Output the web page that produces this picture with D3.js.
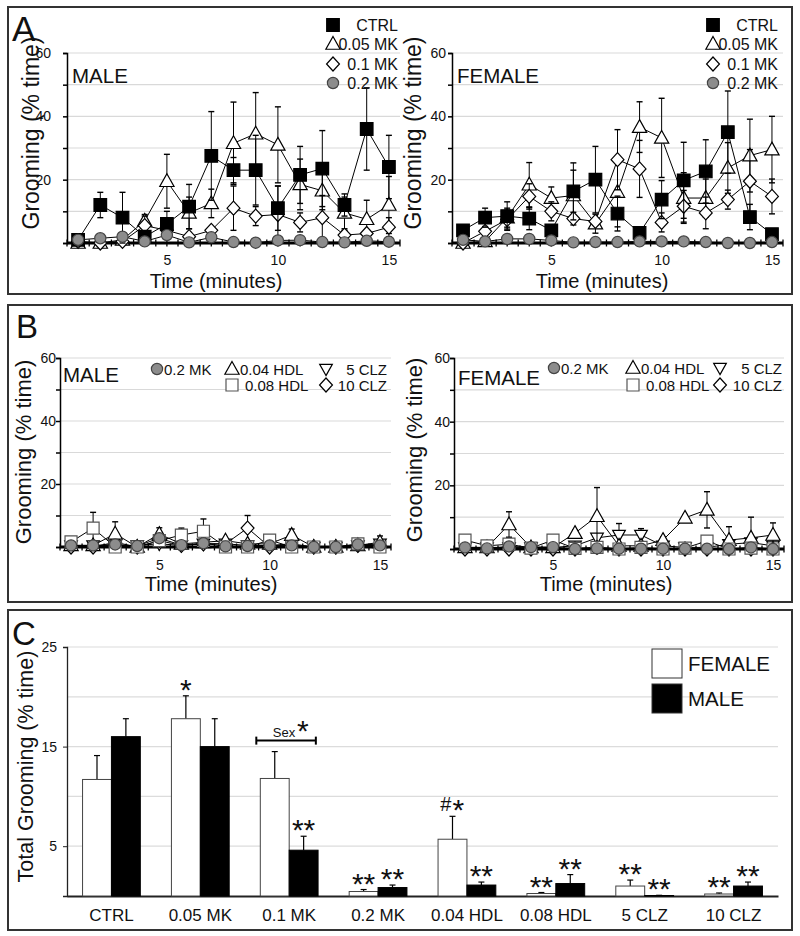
<!DOCTYPE html>
<html><head><meta charset="utf-8">
<script src="https://cdn.jsdelivr.net/npm/d3@7"></script>
<style>body{margin:0;background:#fff} svg{font-family:"Liberation Sans",Arial,sans-serif}</style>
</head><body><svg id="c" width="800" height="936"></svg>
<script>
// ---------- DATA ----------
const minutes = [1,2,3,4,5,6,7,8,9,10,11,12,13,14,15];
const xTickLabels = [5,10,15];
const yTickValues = [0,10,20,30,40,50,60];
const yTickLabels = [20,40,60];

// Panel A male
const ctrlM      = [1, 12, 8, 2, 6, 11.5, 27.5, 23, 23, 11, 21.5, 23.5, 12, 36, 24];
const ctrlMErr   = [0.5, 4, 8, 1.5, 4, 7, 14, 4, 11, 7, 9, 12, 3.5, 13, 10];
const mk005M     = [0, 0, 1, 7, 19.5, 9.5, 12.5, 31.5, 34.5, 31, 18.5, 16.5, 9.5, 7.5, 12];
const mk005MErr  = [0.5, 0.5, 1, 2, 8.5, 5, 4.5, 13, 13, 12, 8, 6, 5, 6, 9];
const mk01M      = [0.5, 0, 0.5, 5.5, 4, 2, 4, 11, 8.5, 9, 6.5, 8, 2.5, 3, 5];
const mk01MErr   = [0.5, 0.5, 0.5, 3, 1.5, 1, 1, 7, 3, 9, 3, 7, 1.5, 1, 3];
const mk02M      = [1, 1.5, 2, 0.5, 2.5, 0.2, 1.8, 0.3, 0.1, 0.8, 0.9, 0.3, 0.2, 0.7, 0.4];
const mk02MErr   = [0.5, 0.5, 0.5, 0.5, 0.5, 0.3, 0.5, 0.3, 0.2, 0.5, 0.5, 0.3, 0.2, 0.5, 0.3];
// Panel A female
const ctrlF      = [4, 8, 8.5, 7.7, 4, 16.3, 20, 9.3, 3.2, 13.7, 19.8, 22.6, 35, 8.2, 2.8];
const ctrlFErr   = [1, 3, 4.5, 3.5, 1.5, 9, 10.5, 5.5, 1, 6, 12, 10, 13, 4, 1];
const mk005F     = [0, 0.5, 8, 18.4, 14.2, 15, 6.1, 16.1, 36.6, 33.2, 14.2, 14.2, 23.7, 27.6, 29.5];
const mk005FErr  = [0.5, 0.5, 3, 7, 3.5, 8, 3, 11, 8, 12.5, 8, 6, 8, 11.5, 10.5];
const mk01F      = [0, 3.7, 7.4, 14.7, 10, 7.7, 6.8, 26.3, 23.4, 6.5, 11.6, 9.5, 13.7, 19.5, 14.7];
const mk01FErr   = [0.5, 1.5, 3, 4, 3, 2, 1, 9.5, 9, 3, 5, 5, 3, 10, 5.5];
const mk02F      = [1, 0.5, 1.3, 1.3, 0.8, 0.2, 0.3, 0.3, 0.5, 0.5, 0.5, 0.3, 0, 0, 0.3];
const mk02FErr   = [0.4, 0.3, 0.5, 0.5, 0.4, 0.2, 0.2, 0.2, 0.3, 0.3, 0.3, 0.2, 0.1, 0.1, 0.2];
// Panel B male
const mk02MB     = [0.5, 0.5, 0.8, 0.3, 2.8, 0.6, 1.2, 0.2, 0.3, 0.5, 0.5, 0, 0, 0.8, 0.5];
const hdl004M    = [0.5, 0.5, 4.2, 0, 4.1, 1, 1.5, 2, 1, 1, 3.8, 0, 0, 0.5, 1.5];
const hdl004MErr = [0.3, 0.3, 3.8, 0.3, 2, 0.5, 0.5, 0.5, 0.5, 0.5, 1.9, 0.3, 0.3, 0.3, 2];
const hdl008M    = [1.6, 6, 0, 0, 2, 3.8, 5, 0, 0, 2.2, 0, 0, 0, 1, 0];
const hdl008MErr = [0.5, 5, 0.3, 0.3, 1, 2.2, 3.9, 0.3, 0.3, 1, 0.3, 0.3, 0.3, 0.5, 0.3];
const clz5M      = [0.5, 0.5, 0.5, 0.5, 1, 0.5, 1, 1, 0.5, 0.5, 1, 0, 0, 0.5, 1];
const clz5MErr   = [0.3, 0.3, 0.3, 0.3, 0.5, 0.3, 0.5, 0.5, 0.3, 0.3, 0.5, 0.2, 0.2, 0.3, 0.5];
const clz10M     = [0, 0, 1.5, 0, 2, 0.5, 1, 1, 6, 0, 0.5, 0, 0, 0.5, 0.5];
const clz10MErr  = [0.3, 0.3, 0.5, 0.3, 0.5, 0.3, 0.5, 0.5, 4, 0.3, 0.3, 0.2, 0.2, 0.3, 0.3];
// Panel B female
const mk02FB     = [0.5, 0.2, 0.8, 0.6, 0.6, 0, 0.2, 0.1, 0.1, 0.1, 0.1, 0.1, 0, 0.5, 0];
const hdl004F    = [0.5, 0.5, 7.7, 0.5, 0.5, 5, 10.3, 1, 1, 2.8, 9.8, 12.3, 2.8, 3.5, 4.4];
const hdl004FErr = [0.3, 0.3, 4, 0.3, 0.3, 1, 9, 0.5, 0.5, 1, 1, 5.7, 4.2, 6.5, 3.8];
const hdl008F    = [2.8, 1, 1.5, 0.3, 2.8, 0.2, 0.5, 0, 0.5, 0, 0.3, 2.5, 0, 0.3, 0];
const hdl008FErr = [0.5, 0.3, 0.5, 0.2, 0.5, 0.2, 0.3, 0.2, 0.3, 0.2, 0.2, 0.5, 0.2, 0.2, 0.2];
const clz5F      = [0.5, 0.5, 0.5, 0.5, 0.5, 1, 3.5, 4.4, 4.4, 1, 0.5, 0.5, 1.5, 2, 1];
const clz5FErr   = [0.3, 0.3, 0.3, 0.3, 0.3, 0.5, 1, 3.6, 2, 0.5, 0.3, 0.3, 0.5, 0.5, 0.5];
const clz10F     = [0, 0, 0, 0, 0, 0, 0.5, 0, 0, 0, 0, 0, 0, 0, 0];
const clz10FErr  = [0.2, 0.2, 0.2, 0.2, 0.2, 0.2, 0.3, 0.2, 0.2, 0.2, 0.2, 0.2, 0.2, 0.2, 0.2];

// Panel C
const groups = ["CTRL","0.05 MK","0.1 MK","0.2 MK","0.04 HDL","0.08 HDL","5 CLZ","10 CLZ"];
const totalFemale    = [11.7, 17.8, 11.8, 0.45, 5.7, 0.25, 1.0, 0.2];
const totalFemaleErr = [2.4, 2.3, 2.7, 0.2, 2.3, 0.1, 0.6, 0.1];
const totalMale      = [16.0, 15.0, 4.6, 0.85, 1.1, 1.25, 0.05, 1.0];
const totalMaleErr   = [1.8, 2.8, 1.4, 0.25, 0.3, 0.9, 0.02, 0.4];
const sigFemale = ["", "*", "", "**", "#*", "**", "**", "**"];
const sigMale   = ["", "", "**", "**", "**", "**", "**", "**"];
const cTickValues = [0,5,10,15,20,25];
const cTickLabels = [5,15,25];

// ---------- DRAWING ----------
const svg = d3.select("#c");

function shapePath(type, s) {
  switch (type) {
    case "square": return `M${-s},${-s}H${s}V${s}H${-s}Z`;
    case "up": return `M0,${-s*1.2}L${s*1.15},${s*0.85}L${-s*1.15},${s*0.85}Z`;
    case "down": return `M0,${s*1.2}L${s*1.15},${-s*0.85}L${-s*1.15},${-s*0.85}Z`;
    case "diamond": return `M0,${-s*1.25}L${s*1.15},0L0,${s*1.25}L${-s*1.15},0Z`;
    case "circle": return `M${s},0A${s},${s} 0 1,1 ${-s},0A${s},${s} 0 1,1 ${s},0Z`;
  }
}
const STY = {
  sqBlack: {type:"square", s:6.3, fill:"#000", stroke:"#000"},
  sqWhite: {type:"square", s:6, fill:"#fff", stroke:"#555"},
  up:      {type:"up", s:6.2, fill:"#fff", stroke:"#000"},
  down:    {type:"down", s:5.5, fill:"#fff", stroke:"#000"},
  diamond: {type:"diamond", s:5.6, fill:"#fff", stroke:"#000"},
  circle:  {type:"circle", s:5.6, fill:"#8c8c8c", stroke:"#444"}
};

function panelBox(y0, y1) {
  svg.append("rect").attr("x",8).attr("y",y0).attr("width",784).attr("height",y1-y0)
    .attr("fill","none").attr("stroke","#333").attr("stroke-width",2);
}

function linePanel(cfg) {
  const g = svg.append("g");
  const x = d3.scaleLinear().domain([0.5,15.5]).range([cfg.x0, cfg.x1]);
  const y = d3.scaleLinear().domain([0,60]).range([cfg.yb, cfg.yt]);
  g.selectAll(".gr").data(yTickValues.filter(d=>d>0)).join("line")
    .attr("x1", cfg.x0).attr("x2", cfg.gx1).attr("y1", d=>y(d)).attr("y2", d=>y(d))
    .attr("stroke","#d9d9d9").attr("stroke-width",1.2);
  const ya = g.append("g").attr("transform",`translate(${cfg.x0},0)`)
    .call(d3.axisLeft(y).tickValues(yTickValues).tickSize(4).tickPadding(cfg.ytp)
      .tickFormat(d => yTickLabels.includes(d) ? d : ""));
  ya.select(".domain").attr("stroke","#000").attr("stroke-width",1.5);
  ya.selectAll(".tick line").attr("stroke","#000").attr("stroke-width",1.5);
  ya.selectAll("text").attr("font-size",14).attr("fill","#111").attr("font-family","Liberation Sans, Arial");
  const xa = g.append("g").attr("transform",`translate(0,${cfg.yb})`)
    .call(d3.axisBottom(x).tickValues(xTickLabels).tickSize(0).tickPadding(cfg.xtp));
  xa.select(".domain").remove();
  xa.selectAll("text").attr("font-size",14).attr("fill","#111").attr("font-family","Liberation Sans, Arial");
  const half = d3.range(0.5, 15.51, 0.5);
  g.selectAll(".mt").data(half).join("line")
    .attr("x1", d=>x(d)).attr("x2", d=>x(d)).attr("y1", cfg.yb-3.5).attr("y2", cfg.yb+3.5)
    .attr("stroke","#000").attr("stroke-width",1.3);
  g.append("line").attr("x1",cfg.x0).attr("x2",cfg.x1).attr("y1",cfg.yb).attr("y2",cfg.yb)
    .attr("stroke","#000").attr("stroke-width",3);
  g.append("text").attr("transform",`translate(${cfg.ylx},${cfg.yly}) rotate(-90)`)
    .attr("text-anchor","middle").attr("font-size",cfg.ylfs).attr("fill","#111").text("Grooming (% time)");
  g.append("text").attr("x",cfg.xlx).attr("y",cfg.xly).attr("text-anchor","middle")
    .attr("font-size",20).attr("fill","#111").text("Time (minutes)");
  g.append("text").attr("x",cfg.sx).attr("y",cfg.sy).attr("font-size",20.5).attr("fill","#111").text(cfg.sex);
  const line = d3.line().x((d,i)=>x(minutes[i])).y(d=>y(d));
  cfg.series.forEach(s => {
    const sg = g.append("g");
    sg.append("path").attr("d", line(s.v)).attr("fill","none").attr("stroke","#000").attr("stroke-width",1);
    const eb = sg.selectAll(".eb").data(s.v.map((v,i)=>({m:minutes[i], v, e:s.e[i]}))).join("g");
    eb.append("line").attr("x1",d=>x(d.m)).attr("x2",d=>x(d.m))
      .attr("y1",d=>y(Math.max(0,d.v-d.e))).attr("y2",d=>y(d.v+d.e))
      .attr("stroke","#000").attr("stroke-width",1);
    eb.append("line").attr("x1",d=>x(d.m)-3).attr("x2",d=>x(d.m)+3)
      .attr("y1",d=>y(d.v+d.e)).attr("y2",d=>y(d.v+d.e)).attr("stroke","#000").attr("stroke-width",1.4);
    eb.append("line").attr("x1",d=>x(d.m)-3).attr("x2",d=>x(d.m)+3)
      .attr("y1",d=>y(Math.max(0,d.v-d.e))).attr("y2",d=>y(Math.max(0,d.v-d.e))).attr("stroke","#000").attr("stroke-width",1.4);
    sg.selectAll(".mk").data(s.v).join("path")
      .attr("transform",(d,i)=>`translate(${x(minutes[i])},${y(d)})`)
      .attr("d", shapePath(s.st.type, s.st.s))
      .attr("fill", s.st.fill).attr("stroke", s.st.stroke).attr("stroke-width",1.2);
  });
  cfg.legend.forEach(l => {
    g.append("path").attr("transform",`translate(${l.mx},${l.my})`)
      .attr("d", shapePath(l.st.type, l.st.s)).attr("fill",l.st.fill).attr("stroke",l.st.stroke).attr("stroke-width",1.2);
    g.append("text").attr("x",l.tx).attr("y",l.my+5.5).attr("text-anchor",l.anchor)
      .attr("font-size",l.fs).attr("fill","#111").text(l.label);
  });
}

panelBox(7, 294);
panelBox(305, 602);
panelBox(610, 930);

svg.append("text").attr("x",12).attr("y",41).attr("font-size",35).attr("fill","#111").text("A");
svg.append("text").attr("x",16).attr("y",338).attr("font-size",33).attr("fill","#111").text("B");
svg.append("text").attr("x",12).attr("y",645).attr("font-size",33).attr("fill","#111").text("C");

function legendA(mx, tx) {
  return [
    {label:"CTRL", st:STY.sqBlack, mx, my:25, tx, anchor:"end", fs:16},
    {label:"0.05 MK", st:STY.up, mx, my:44, tx, anchor:"end", fs:16},
    {label:"0.1 MK", st:STY.diamond, mx, my:64, tx, anchor:"end", fs:16},
    {label:"0.2 MK", st:STY.circle, mx, my:83, tx, anchor:"end", fs:16}
  ];
}

linePanel({x0:67, x1:400, gx1:400, yb:243, yt:53, ylx:39, yly:133, ylfs:23, xlx:216, xly:288,
  ytp:12, xtp:12, sx:72, sy:83, sex:"MALE",
  series:[
    {v:mk005M, e:mk005MErr, st:STY.up},
    {v:mk01M, e:mk01MErr, st:STY.diamond},
    {v:ctrlM, e:ctrlMErr, st:STY.sqBlack},
    {v:mk02M, e:mk02MErr, st:STY.circle}
  ],
  legend: legendA(333, 398)});

linePanel({x0:452, x1:783, gx1:783, yb:243, yt:53, ylx:421, yly:133, ylfs:23, xlx:602, xly:288,
  ytp:2, xtp:12, sx:457, sy:83, sex:"FEMALE",
  series:[
    {v:mk005F, e:mk005FErr, st:STY.up},
    {v:mk01F, e:mk01FErr, st:STY.diamond},
    {v:ctrlF, e:ctrlFErr, st:STY.sqBlack},
    {v:mk02F, e:mk02FErr, st:STY.circle}
  ],
  legend: legendA(713, 778)});

function legendB(cx, tx1, hx, htx1, htx2, dx, dtx, r1, r2) {
  return [
    {label:"0.2 MK", st:STY.circle, mx:cx, my:r1, tx:tx1, anchor:"start", fs:15},
    {label:"0.04 HDL", st:STY.up, mx:hx, my:r1, tx:htx1, anchor:"start", fs:15},
    {label:"0.08 HDL", st:STY.sqWhite, mx:hx, my:r2, tx:htx2, anchor:"start", fs:15},
    {label:"5 CLZ", st:STY.down, mx:dx, my:r1, tx:dtx, anchor:"end", fs:15},
    {label:"10 CLZ", st:STY.diamond, mx:dx, my:r2, tx:dtx, anchor:"end", fs:15}
  ];
}

linePanel({x0:60, x1:391, gx1:391, yb:547, yt:358, ylx:31, yly:452, ylfs:22, xlx:211, xly:591,
  ytp:0, xtp:13, sx:63, sy:382, sex:"MALE",
  series:[
    {v:clz5M, e:clz5MErr, st:STY.down},
    {v:clz10M, e:clz10MErr, st:STY.diamond},
    {v:hdl004M, e:hdl004MErr, st:STY.up},
    {v:hdl008M, e:hdl008MErr, st:STY.sqWhite},
    {v:mk02MB, e:mk02MErr, st:STY.circle}
  ],
  legend: legendB(157, 164, 232, 240, 245, 326, 387, 369, 385)});

linePanel({x0:454, x1:784, gx1:784, yb:549, yt:358, ylx:422, yly:450, ylfs:22, xlx:606, xly:591,
  ytp:0, xtp:11, sx:458, sy:385, sex:"FEMALE",
  series:[
    {v:clz5F, e:clz5FErr, st:STY.down},
    {v:clz10F, e:clz10FErr, st:STY.diamond},
    {v:hdl004F, e:hdl004FErr, st:STY.up},
    {v:hdl008F, e:hdl008FErr, st:STY.sqWhite},
    {v:mk02FB, e:mk02FErr, st:STY.circle}
  ],
  legend: legendB(554, 561, 633, 641, 646, 720, 782, 368, 385)});

// ---------- Panel C ----------
(function(){
  const g = svg.append("g");
  const x0 = 67, x1 = 778, yb = 896, yt = 647;
  const x = d3.scaleBand().domain(groups).range([x0, x1]).padding(0);
  const sx = d3.scaleBand().domain(["F","M"]).range([x.bandwidth()*0.175, x.bandwidth()*0.825]).padding(0);
  const y = d3.scaleLinear().domain([0,25]).range([yb, yt]);
  g.selectAll(".gr").data(cTickValues.filter(d=>d>0)).join("line")
    .attr("x1",x0).attr("x2",x1).attr("y1",d=>y(d)).attr("y2",d=>y(d))
    .attr("stroke","#dcdcdc").attr("stroke-width",1.2);
  const ya = g.append("g").attr("transform",`translate(${x0},0)`)
    .call(d3.axisLeft(y).tickValues(cTickLabels).tickSize(4).tickPadding(6));
  ya.select(".domain").attr("stroke","#222").attr("stroke-width",1.3);
  ya.selectAll(".tick line").attr("stroke","#222");
  ya.selectAll("text").attr("font-size",14).attr("fill","#111").attr("font-family","Liberation Sans, Arial");
  const xa = g.append("g").attr("transform",`translate(0,${yb})`)
    .call(d3.axisBottom(x).tickSize(0).tickPadding(13));
  xa.select(".domain").attr("stroke","#222").attr("stroke-width",2);
  xa.selectAll("text").attr("font-size",17).attr("fill","#111").attr("font-family","Liberation Sans, Arial");

  const rows = [];
  groups.forEach((gr,i) => {
    rows.push({g:gr, s:"F", v:totalFemale[i], e:totalFemaleErr[i], sig:sigFemale[i]});
    rows.push({g:gr, s:"M", v:totalMale[i], e:totalMaleErr[i], sig:sigMale[i]});
  });
  const bx = d => x(d.g) + sx(d.s);
  const bw = sx.bandwidth();
  g.selectAll(".eb").data(rows).join("line")
    .attr("x1",d=>bx(d)+bw/2).attr("x2",d=>bx(d)+bw/2).attr("y1",d=>y(d.v)).attr("y2",d=>y(d.v+d.e))
    .attr("stroke","#000").attr("stroke-width",1.2);
  g.selectAll(".ec").data(rows).join("line")
    .attr("x1",d=>bx(d)+bw/2-3).attr("x2",d=>bx(d)+bw/2+3).attr("y1",d=>y(d.v+d.e)).attr("y2",d=>y(d.v+d.e))
    .attr("stroke","#000").attr("stroke-width",1.2);
  g.selectAll(".bar").data(rows).join("rect")
    .attr("x",bx).attr("width",bw).attr("y",d=>y(d.v)).attr("height",d=>yb-y(d.v))
    .attr("fill",d=>d.s==="F"?"#fff":"#000").attr("stroke",d=>d.s==="F"?"#444":"#000").attr("stroke-width",1);
  rows.filter(d=>d.sig).forEach(d => {
    const cx = bx(d)+bw/2, cy = y(d.v+d.e) - 12;
    if (d.sig.startsWith("#")) {
      g.append("text").attr("x",cx-1).attr("y",cy+7).attr("text-anchor","end").attr("font-size",20).attr("fill","#111").text("#");
      g.append("text").attr("x",cx).attr("y",cy+16).attr("text-anchor","start").attr("font-size",30).attr("fill","#111").text("*");
    } else {
      g.append("text").attr("x",cx).attr("y",cy+16).attr("text-anchor","middle").attr("font-size",30).attr("fill","#111").text(d.sig);
    }
  });
  const bxl = x("0.1 MK") + x.bandwidth()*0.13, bxr = x("0.1 MK") + x.bandwidth()*0.8;
  const by = y(15.6);
  g.append("line").attr("x1",bxl).attr("x2",bxr).attr("y1",by).attr("y2",by).attr("stroke","#000").attr("stroke-width",2);
  [bxl,bxr].forEach(v => g.append("line").attr("x1",v).attr("x2",v).attr("y1",by-4).attr("y2",by+4).attr("stroke","#000").attr("stroke-width",2));
  g.append("text").attr("x",(bxl+bxr)/2-2).attr("y",by-4).attr("text-anchor","middle").attr("font-size",13).attr("fill","#111").text("Sex");
  g.append("text").attr("x",(bxl+bxr)/2+11).attr("y",by-0).attr("text-anchor","start").attr("font-size",30).attr("fill","#111").text("*");
  g.append("text").attr("transform",`translate(33,${(yb+yt)/2-5}) rotate(-90)`).attr("text-anchor","middle")
    .attr("font-size",21.5).attr("fill","#111").text("Total Grooming (% time)");
  const leg = [{label:"FEMALE", fill:"#fff", y:649}, {label:"MALE", fill:"#000", y:684}];
  leg.forEach(l => {
    g.append("rect").attr("x",652).attr("y",l.y).attr("width",30).attr("height",29)
      .attr("fill",l.fill).attr("stroke","#333").attr("stroke-width",1);
    g.append("text").attr("x",688).attr("y",l.y+22).attr("font-size",20.5).attr("fill","#111").text(l.label);
  });
})();
</script>
</body></html>
